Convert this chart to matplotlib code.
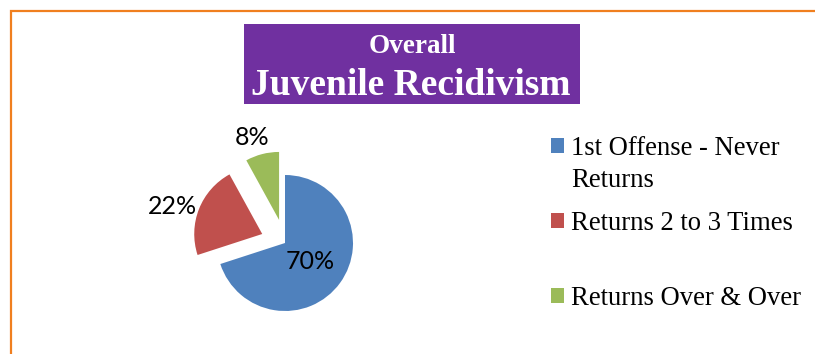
import matplotlib
matplotlib.use("Agg")
import matplotlib.pyplot as plt
from matplotlib.patches import Rectangle
import numpy as np

# ---- data ----
categories = ["1st Offense - Never Returns", "Returns 2 to 3 Times", "Returns Over & Over"]
values = [70, 22, 8]
colors = ["#4F81BD", "#C0504D", "#9BBB59"]
explode = [0.0, 0.36, 0.35]
title_top = "Overall"
title_main = "Juvenile Recidivism"

W, H = 815, 354
fig = plt.figure(figsize=(W / 100, H / 100), dpi=100)
fig.patch.set_facecolor("white")

def fx(px):
    return px / W

def fy(py):
    return (H - py) / H

# orange frame (only top/left visible)
fig.add_artist(Rectangle((fx(11), fy(411)), fx(900), 400 / H, transform=fig.transFigure,
                         fill=False, edgecolor="#F07F1F", linewidth=1.6))

# title box
fig.add_artist(Rectangle((fx(244), fy(104)), fx(336), 80 / H, transform=fig.transFigure,
                         facecolor="#7030A0", edgecolor="none"))
fig.text(fx(412), fy(46.5), title_top, ha="center", va="center", color="white",
         fontsize=19.5, fontweight="bold", family="Liberation Serif")
fig.text(fx(411), fy(85.5), title_main, ha="center", va="center", color="white",
         fontsize=27, fontweight="bold", family="Liberation Serif")

# pie axes: center at (285,243) px, radius 68 px, data range +-2
R = 68
cx, cy = 285, 243
ax = fig.add_axes([fx(cx - 2 * R), fy(cy + 2 * R), 4 * R / W, 4 * R / H])

wedges, texts, autotexts = ax.pie(values, colors=colors, explode=explode, startangle=90,
                                  counterclock=False, autopct="%1.0f%%", pctdistance=0.46,
                                  radius=1, frame=True,
                                  textprops=dict(fontsize=18, family="Lato", color="black"))
ax.set_xlim(-2, 2)
ax.set_ylim(-2, 2)
ax.set_aspect("equal")
ax.axis("off")

for i, (w, t) in enumerate(zip(wedges, autotexts)):
    if i == 0:
        continue
    th = np.deg2rad((w.theta1 + w.theta2) / 2)
    c = w.center
    d = 1.36
    t.set_position((c[0] + d * np.cos(th) - 0.06, c[1] + d * np.sin(th) - 0.1))
    t.set_ha("center")
    t.set_va("center")

# legend
leg_labels = ["1st Offense - Never", "Returns 2 to 3 Times", "Returns Over & Over"]
leg = fig.legend(wedges, leg_labels, loc="upper left",
                 bbox_to_anchor=(fx(551), fy(136)), frameon=False,
                 prop=dict(family="Liberation Serif", size=19.2),
                 handlelength=0.5, handleheight=0.5, handletextpad=0.25,
                 labelspacing=1.88, borderpad=0, borderaxespad=0)

fig.canvas.draw()
t0 = leg.get_texts()[0]
bb = t0.get_window_extent()
fig.text(bb.x0 / W, (bb.y0 - 32) / H, "Returns", ha="left", va="bottom",
         family="Liberation Serif", fontsize=19.2)

fig.savefig("out.png", dpi=100)
